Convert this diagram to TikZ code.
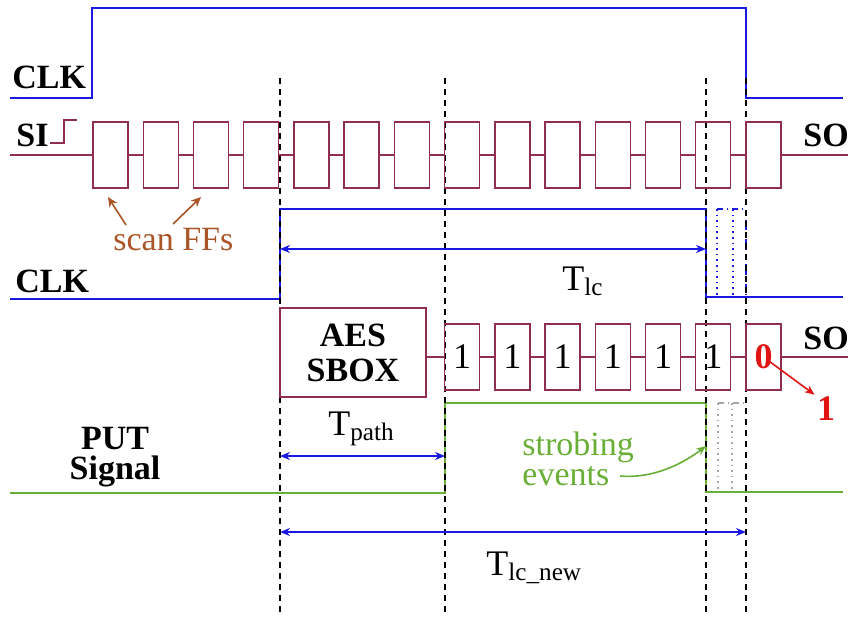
\documentclass[tikz,border=0pt]{standalone}
\usepackage{fontspec}
\setmainfont{Liberation Serif}
\usetikzlibrary{arrows.meta}
\definecolor{ClkBlue}{RGB}{25,25,225}
\definecolor{FFRed}{RGB}{145,45,80}
\definecolor{ScanBrown}{RGB}{170,85,40}
\definecolor{PutGreen}{RGB}{105,175,55}
\definecolor{FlipRed}{RGB}{225,20,20}

\begin{document}
\begin{tikzpicture}[
    x=0.5pt, y=-0.5pt,
    ffbox/.style={
        rectangle, draw=FFRed, line width=0.7pt,
        minimum width=17.5pt, minimum height=33pt, inner sep=0pt,
        font=\fontsize{18}{18}\selectfont
    },
    ffline/.style={FFRed, line width=0.7pt},
    signame/.style={font=\fontsize{17}{15}\selectfont\bfseries, inner sep=0pt},
    timetext/.style={font=\fontsize{18}{18}\selectfont, inner sep=0pt},
    clkwave/.style={ClkBlue, line width=0.8pt},
    putwave/.style={PutGreen, line width=0.8pt},
    marker/.style={dash pattern=on 3pt off 2.5pt, line width=0.6pt},
    dimarrow/.style={{Stealth[length=5pt,width=4pt]}-{Stealth[length=5pt,width=4pt]}, ClkBlue, line width=0.8pt},
    scanarrow/.style={-{Stealth[length=5pt,width=4.5pt]}, ScanBrown, line width=0.8pt}
]
\useasboundingbox (0,0) rectangle (849,617);

% clocks and PUT signal
\draw[clkwave] (10,98) -- (92,98) -- (92,8) -- (746,8) -- (746,98) -- (843,98);
\draw[clkwave] (10,299) -- (280,299) -- (280,209) -- (706,209) -- (706,297) -- (843,297);
\draw[ClkBlue, dotted, line width=0.8pt] (717,209) -- (717,297) (733,209) -- (733,297);
\draw[ClkBlue, dash dot, line width=0.8pt] (717,209) -- (746,209) -- (746,297);
\draw[putwave] (10,493) -- (445,493) -- (445,403) -- (706,403) -- (706,492) -- (843,492);
\draw[gray!70, dotted, line width=0.8pt] (718,403) -- (718,492) (732,403) -- (732,492);
\draw[gray!70, dash dot, line width=0.8pt] (718,403) -- (746,403);

% time markers
\foreach \x in {280,445,706,746}
    \draw[marker] (\x,78) -- (\x,612);

\node[signame, anchor=base west] (clka) at (12,88) {CLK};
\node[signame, anchor=base west] (clkb) at (15,292) {CLK};
\node[signame, anchor=north, align=center] (put) at (115,427) {PUT\\Signal};

% scan chain
\coordinate (siin) at (10,155);
\coordinate (soout) at (848,155);
\foreach \i in {0,...,13}
    \node[ffbox] (ff\i) at ({110.5+50.23*\i},155) {};
\foreach \j [count=\i from 0] in {1,...,13}
    \draw[ffline] (ff\i) -- (ff\j);
\draw[ffline] (siin) -- (ff0);
\draw[ffline] (ff13) -- (soout);
\draw[ffline] (50,143) -- (64,143) -- (64,120) -- (77,120);
\node[signame, anchor=base west] (si) at (16,146) {SI};
\node[signame, anchor=base west] (soa) at (803,146) {SO};

\node[font=\fontsize{17}{17}\selectfont, text=ScanBrown, anchor=base west, inner sep=0pt] (scanff) at (113,250) {scan FFs};
\draw[scanarrow] (126,225) -- (108,197);
\draw[scanarrow] (173,224) -- (201,197);

% sbox and captured values
\coordinate (soout2) at (848,357);
\node[ffbox, minimum width=73pt, minimum height=44.5pt, align=center,
      font=\fontsize{17}{17.5}\selectfont\bfseries] (sbox) at (353,352.5) {AES\\SBOX};
\foreach \i in {7,...,12}
    \node[ffbox] (lc\i) at ({110.5+50.23*\i},357) {1};
\node[ffbox, text=FlipRed, font=\fontsize{18}{18}\selectfont\bfseries] (lc13) at (763.5,357) {0};
\draw[ffline] (sbox.east |- lc7) -- (lc7);
\foreach \j [count=\i from 7] in {8,...,13}
    \draw[ffline] (lc\i) -- (lc\j);
\draw[ffline] (lc13) -- (soout2);
\node[signame, anchor=base west] (sob) at (803,349) {SO};

\node[text=FlipRed, font=\fontsize{18}{18}\selectfont\bfseries, inner sep=1pt] (flip) at (826,409) {1};
\draw[-{Stealth[length=5pt,width=4pt]}, FlipRed, line width=0.8pt] ([shift={(4,3)}]lc13.center) -- (flip.north west);

% time spans
\coordinate (lcl) at (280,249);
\coordinate (lcr) at (706,249);
\coordinate (pathl) at (280,456);
\coordinate (pathr) at (445,456);
\coordinate (newl) at (280,532);
\coordinate (newr) at (746,532);
\draw[dimarrow] (lcl) -- (lcr);
\draw[dimarrow] (pathl) -- (pathr);
\draw[dimarrow] (newl) -- (newr);
\node[timetext, anchor=base west] (tlc) at (562,290) {T\textsubscript{lc}};
\node[timetext, anchor=base west] (tpath) at (328,435) {T\textsubscript{path}};
\node[timetext, anchor=base west] (tnew) at (486,575) {T\textsubscript{lc\_new}};

% strobing events
\node[font=\fontsize{17}{15}\selectfont, text=PutGreen, align=left, anchor=north west, inner sep=0pt] (strobe) at (522,431) {strobing\\events};
\coordinate (evtail) at (620,476);
\coordinate (evhead) at (706,446);
\draw[-{Stealth[length=5pt,width=4pt]}, PutGreen, line width=0.8pt] (evtail) .. controls (655,479) and (685,462) .. (evhead);

\end{tikzpicture}
\end{document}
